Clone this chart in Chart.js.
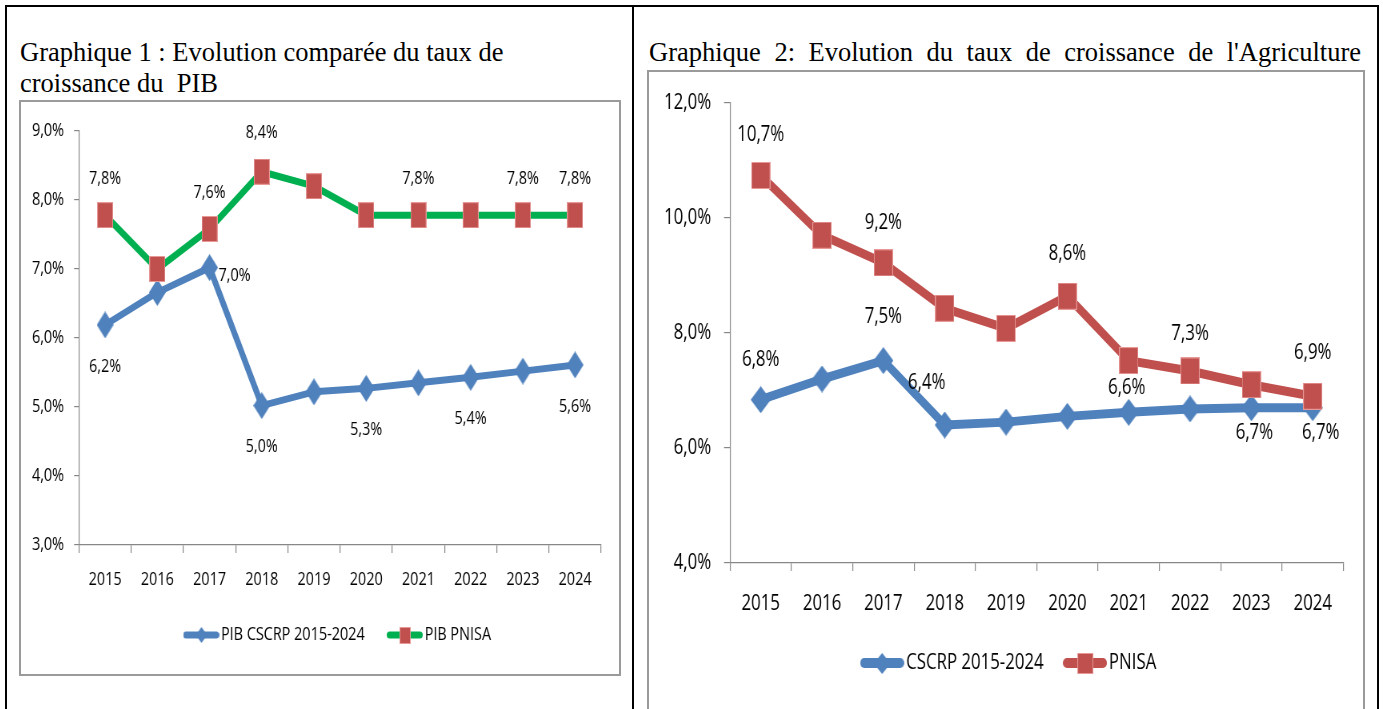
<!DOCTYPE html>
<html><head><meta charset="utf-8">
<script src="https://cdn.jsdelivr.net/npm/chart.js@4.4.1/dist/chart.umd.min.js"></script>
<style>
html,body{margin:0;padding:0;background:#fff;width:1383px;height:709px;overflow:hidden;position:relative;}
.frame{position:absolute;background:#000;}
.title{position:absolute;font-family:"Liberation Serif","Times New Roman",serif;font-size:26.5px;line-height:31px;color:#000;}
.box{position:absolute;border:2px solid #9a9a9a;box-sizing:border-box;background:#fff;}
canvas{position:absolute;display:block;}
</style></head><body>
<div class="frame" style="left:5px;top:5px;width:1374px;height:2px"></div>
<div class="frame" style="left:5px;top:5px;width:2px;height:704px"></div>
<div class="frame" style="left:632px;top:5px;width:2px;height:704px"></div>
<div class="frame" style="left:1377px;top:5px;width:2px;height:704px"></div>

<div class="title" style="left:20px;top:37px;white-space:nowrap">Graphique 1 : Evolution comparée du taux de<br>croissance du&nbsp; PIB</div>
<div class="title" style="left:649px;top:37px;width:712px;text-align:justify;text-align-last:justify;white-space:normal">Graphique 2: Evolution du taux de croissance de l'Agriculture</div>

<div class="box" style="left:19px;top:100px;width:602px;height:576px"></div>
<div class="box" style="left:647px;top:70px;width:718px;height:680px"></div>
<canvas id="c1" width="746" height="572" style="left:21px;top:102px;width:597px;height:572px"></canvas>
<canvas id="c2" width="892" height="637" style="left:649px;top:72px;width:714px;height:637px"></canvas>

<script>
// ---------- DATA ----------
const years = ['2015','2016','2017','2018','2019','2020','2021','2022','2023','2024'];
const pibCscrp = [6.19, 6.66, 7.02, 5.02, 5.22, 5.27, 5.35, 5.43, 5.52, 5.61];
const pibPnisa = [7.78, 7.0, 7.58, 8.41, 8.2, 7.78, 7.78, 7.78, 7.78, 7.78];
const agriCscrp = [6.84, 7.2, 7.52, 6.4, 6.45, 6.55, 6.62, 6.68, 6.7, 6.7];
const agriPnisa = [10.74, 9.7, 9.22, 8.43, 8.08, 8.64, 7.52, 7.34, 7.1, 6.9];
const seriesNames1 = ['PIB CSCRP 2015-2024', 'PIB PNISA'];
const seriesNames2 = ['CSCRP 2015-2024', 'PNISA'];

// ---------- STYLE ----------
const BLUE = '#4F81BD', RED = '#C0504D', GREEN = '#00B050', AX = '#878787';
const FAM = '"Open Sans","Liberation Sans",sans-serif';
const SX = 0.8; // horizontal squeeze of the chart canvases (narrow font look)
// data-label placement (dx, dy in screen px from point), null = no label
const lbl1Cscrp = [[0,42],null,[25,8],[0,41],null,[0,42],null,[0,42],null,[0,42]];
const lbl1Pnisa = [[0,-36],null,[0,-36],[0,-39],null,null,[0,-36],null,[0,-36],[0,-36]];
const lbl2Cscrp = [[0,-40],null,[0,-44],[-18,-42],null,null,[-2,-24],null,[3,25],[8,25]];
const lbl2Pnisa = [[0,-40],null,[0,-40],null,null,[0,-42],null,[0,-37],null,[0,-43]];

function fmt(v){ return Number(v).toFixed(1).replace('.', ',') + '%'; }

function mkSquare(w,h){
  const c=document.createElement('canvas'); c.width=w; c.height=h;
  const g=c.getContext('2d'); g.fillStyle=RED; g.fillRect(0,0,w,h);
  g.strokeStyle='rgba(235,160,160,0.9)'; g.lineWidth=1; g.strokeRect(0.5,0.5,w-1,h-1);
  return c;
}
function mkDiamond(w,h){
  const c=document.createElement('canvas'); c.width=w; c.height=h;
  const g=c.getContext('2d'); g.fillStyle=BLUE; g.beginPath();
  g.moveTo(w/2,0); g.lineTo(w,h/2); g.lineTo(w/2,h); g.lineTo(0,h/2); g.closePath(); g.fill();
  return c;
}
function mkLegend(lw, th, color, marker, h){
  const c=document.createElement('canvas'); c.width=lw; c.height=h;
  const g=c.getContext('2d'); g.strokeStyle=color; g.lineWidth=th; g.lineCap='round';
  g.beginPath(); g.moveTo(th/2,h/2); g.lineTo(lw-th/2,h/2); g.stroke();
  g.drawImage(marker,Math.round((lw-marker.width)/2),Math.round((h-marker.height)/2));
  return c;
}

const labelPlugin = {
  id:'valueLabels',
  afterDatasetsDraw(chart){
    const ctx = chart.ctx, cfg = chart.options.plugins.valueLabels;
    ctx.save();
    ctx.font = cfg.size + 'px ' + FAM; ctx.fillStyle = '#000';
    ctx.textAlign='center'; ctx.textBaseline='middle';
    chart.data.datasets.forEach((ds, di) => {
      const meta = chart.getDatasetMeta(di); const offs = cfg.offsets[di];
      meta.data.forEach((pt, i) => {
        const o = offs[i]; if (!o) return;
        ctx.fillText(fmt(ds.data[i]), pt.x + o[0]/SX, pt.y + o[1]);
      });
    });
    ctx.restore();
  }
};
// places the legend so its first item starts at a given x
const legendPlace = {
  id:'legendPlace',
  afterLayout(chart){
    const L = chart.legend, tx = chart.options.plugins.legendPlace.x;
    if (!L || !L.lineWidths) return;
    const pad = L.options.labels.padding;
    const cur = (L.left + pad + L.right - L.lineWidths[0]) / 2;
    const s = tx - cur; L.left += s; L.right += s;
  }
};

function build(el, o){
  const legendImgs = o.legendImgs;
  return new Chart(document.getElementById(el), {
    type:'line',
    data:{ labels: years, datasets:[
      {label:o.names[0], data:o.d0, borderColor:BLUE, backgroundColor:BLUE, borderWidth:o.lw,
       pointStyle:o.m0, pointRadius:10, pointHoverRadius:10, tension:0, borderJoinStyle:'round', borderCapStyle:'round', clip:false, order:2},
      {label:o.names[1], data:o.d1, borderColor:o.c1, backgroundColor:RED, borderWidth:o.lw,
       pointStyle:o.m1, pointRadius:10, pointHoverRadius:10, tension:0, borderJoinStyle:'round', borderCapStyle:'round', clip:false, order:1}
    ]},
    options:{
      responsive:false, animation:false, events:[], devicePixelRatio:1,
      layout:{padding:{left:0, right:o.pr, top:o.pt, bottom:o.pb}},
      plugins:{
        tooltip:{enabled:false},
        valueLabels:{size:o.lblSize, offsets:o.offsets},
        legendPlace:{x:o.legendX},
        legend:{position:'bottom', labels:{usePointStyle:true, pointStyleWidth:o.psw, padding:o.lpad,
          font:{family:FAM, size:o.legSize}, color:'#000',
          generateLabels:(chart)=>chart.data.datasets.map((ds,i)=>({text:ds.label, pointStyle:legendImgs[i],
            fillStyle:'transparent', strokeStyle:'transparent', lineWidth:0, hidden:false, datasetIndex:i, fontColor:'#000'}))}}
      },
      scales:{
        x:{offset:true, grid:{offset:true, drawOnChartArea:false, tickLength:8, color:AX, lineWidth:1.2},
           border:{color:AX, width:1.2},
           ticks:{font:{family:FAM, size:o.axSize}, color:'#000', padding:o.xpad, maxRotation:0, autoSkip:false},
           afterFit:(s)=>{ s.height = o.xh; }},
        y:{min:o.ymin, max:o.ymax,
           ticks:{stepSize:o.step, callback:(v)=>fmt(v), font:{family:FAM, size:o.axSize}, color:'#000', padding:o.ypad},
           grid:{drawOnChartArea:false, tickLength:o.ytl, color:AX, lineWidth:1.2},
           border:{color:AX, width:1.2},
           afterFit:(s)=>{ s.width = o.yw; }}
      }
    },
    plugins:[labelPlugin, legendPlace]
  });
}

// Chart 1 (internal canvas units: x = screen / SX)
const sq1 = mkSquare(20,26), di1 = mkDiamond(21,27);
build('c1', {
  names:seriesNames1, d0:pibCscrp, d1:pibPnisa, c1:GREEN, lw:7, m0:di1, m1:sq1,
  legendImgs:[mkLegend(45,7,BLUE,mkDiamond(14,16),20), mkLegend(45,7,GREEN,mkSquare(14,17),20)],
  pr:21, pt:29, pb:20, yw:72.5, xh:47, psw:32, lpad:34, legSize:18, axSize:18, lblSize:18,
  xpad:16, ypad:12.5, ytl:6.25, legendX:209, ymin:3, ymax:9, step:1, offsets:[lbl1Cscrp, lbl1Pnisa]
});
// Chart 2
const sq2 = mkSquare(24,27), di2 = mkDiamond(25,27);
build('c2', {
  names:seriesNames2, d0:agriCscrp, d1:agriPnisa, c1:RED, lw:9, m0:di2, m1:sq2,
  legendImgs:[mkLegend(55,10,BLUE,mkDiamond(21,21),24), mkLegend(55,10,RED,mkSquare(20,21),24)],
  pr:24.5, pt:31, pb:25.5, yw:101.25, xh:57.5, psw:39, lpad:32, legSize:21, axSize:21, lblSize:21,
  xpad:20, ypad:16.25, ytl:7.5, legendX:271.75, ymin:4, ymax:12, step:2, offsets:[lbl2Cscrp, lbl2Pnisa]
});
</script>
</body></html>
